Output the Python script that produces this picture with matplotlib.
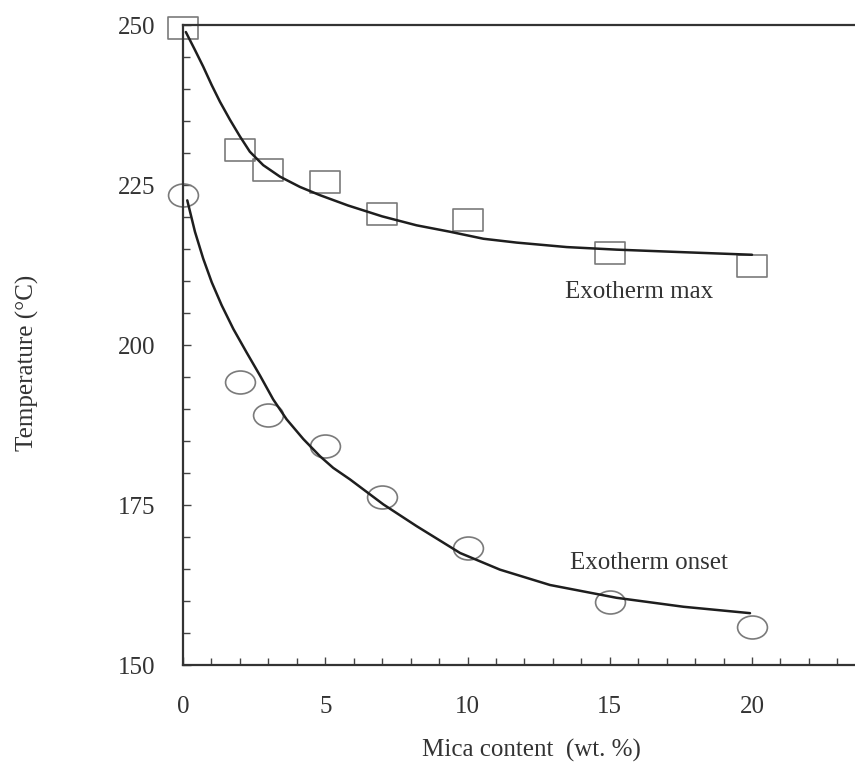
import matplotlib
matplotlib.use("Agg")
import matplotlib.pyplot as plt
import numpy as np
from matplotlib.path import Path
from matplotlib.transforms import Affine2D
from matplotlib.ticker import MultipleLocator

# ---- data ----
mica = [0, 2, 3, 5, 7, 10, 15, 20]
exo_max = [249.5, 230.4, 227.4, 225.4, 220.4, 219.5, 214.3, 212.3]
exo_onset = [223.4, 194.2, 189.0, 184.2, 176.2, 168.3, 159.8, 156.0]

fit_max_x = [0.1, 0.42, 0.71, 1.01, 1.30, 1.65, 2.00, 2.35, 2.82, 3.41, 4.11,
             4.82, 5.8, 7.0, 8.21, 9.38, 10.56, 11.73, 13.49, 15.24, 17.59, 20.0]
fit_max_y = [248.9, 246.1, 243.5, 240.6, 238.0, 235.2, 232.6, 230.2, 228.1, 226.3, 224.7,
             223.4, 221.8, 220.1, 218.7, 217.7, 216.6, 216.0, 215.3, 214.9, 214.5, 214.1]

fit_onset_x = [0.15, 0.42, 0.71, 1.01, 1.36, 1.77, 2.24, 2.71, 3.17, 3.64, 4.23, 4.82,
               5.28, 5.87, 7.04, 8.21, 9.74, 11.14, 12.9, 15.24, 17.59, 19.93]
fit_onset_y = [222.6, 217.7, 213.5, 209.8, 206.2, 202.5, 198.8, 195.2, 191.5, 188.4, 185.3, 182.6,
               180.8, 179.0, 175.1, 171.7, 167.5, 164.9, 162.5, 160.5, 159.1, 158.1]

x_ticks = [0, 5, 10, 15, 20]
y_ticks = [150, 175, 200, 225, 250]

# ---- style ----
plt.rcParams['font.family'] = ['Liberation Serif', 'DejaVu Serif']
txt = '#333333'

fig = plt.figure(figsize=(8.55, 7.69), dpi=100)
ax = fig.add_axes([183/855, 1 - 665/769, 1 - 183/855, (665 - 25)/769])

rect = Path([(-1.36, -1), (1.36, -1), (1.36, 1), (-1.36, 1), (-1.36, -1)],
            [Path.MOVETO, Path.LINETO, Path.LINETO, Path.LINETO, Path.CLOSEPOLY])
ell = Path.unit_circle().transformed(Affine2D().scale(1.3, 1.0))

ax.plot(fit_max_x, fit_max_y, color='#1e1e1e', lw=1.8, solid_capstyle='round',
        solid_joinstyle='round', zorder=3)
ax.plot(fit_onset_x, fit_onset_y, color='#1e1e1e', lw=1.8, solid_capstyle='round',
        solid_joinstyle='round', zorder=3)
ax.plot(mica, exo_max, linestyle='none', marker=rect, markersize=21.5,
        markerfacecolor='none', markeredgecolor='#7a7a7a', markeredgewidth=1.2,
        clip_on=False, zorder=2)
ax.plot(mica, exo_onset, linestyle='none', marker=ell, markersize=21.5,
        markerfacecolor='none', markeredgecolor='#7a7a7a', markeredgewidth=1.2,
        clip_on=False, zorder=2)

ax.set_xlim(0, 23.62)
ax.set_ylim(150, 250)
ax.set_xticks(x_ticks)
ax.set_yticks(y_ticks)
ax.xaxis.set_minor_locator(MultipleLocator(1))
ax.yaxis.set_minor_locator(MultipleLocator(5))
ax.tick_params(axis='both', which='both', direction='in', color='#444444', width=1.0,
               labelcolor=txt, labelsize=18)
ax.tick_params(axis='both', which='major', length=6)
ax.tick_params(axis='both', which='minor', length=5)
ax.tick_params(axis='x', which='major', pad=22)
ax.tick_params(axis='y', which='major', pad=20)
ax.tick_params(top=False, right=False, which='both')

for s in ['top', 'left', 'bottom']:
    ax.spines[s].set_linewidth(1.6)
    ax.spines[s].set_color('#333333')
ax.spines['right'].set_visible(False)

ax.set_xlabel('Mica content  (wt. %)', fontsize=18, color=txt)
ax.xaxis.set_label_coords(0.519, -0.115)
ax.set_ylabel('Temperature (°C)', fontsize=18, color=txt)
ax.yaxis.set_label_coords(-0.215, 0.472)

ax.text(13.43, 208.3, 'Exotherm max', fontsize=18, color=txt, ha='left', va='center')
ax.text(13.6, 166.0, 'Exotherm onset', fontsize=18, color=txt, ha='left', va='center')

fig.savefig('out.png', dpi=100)
